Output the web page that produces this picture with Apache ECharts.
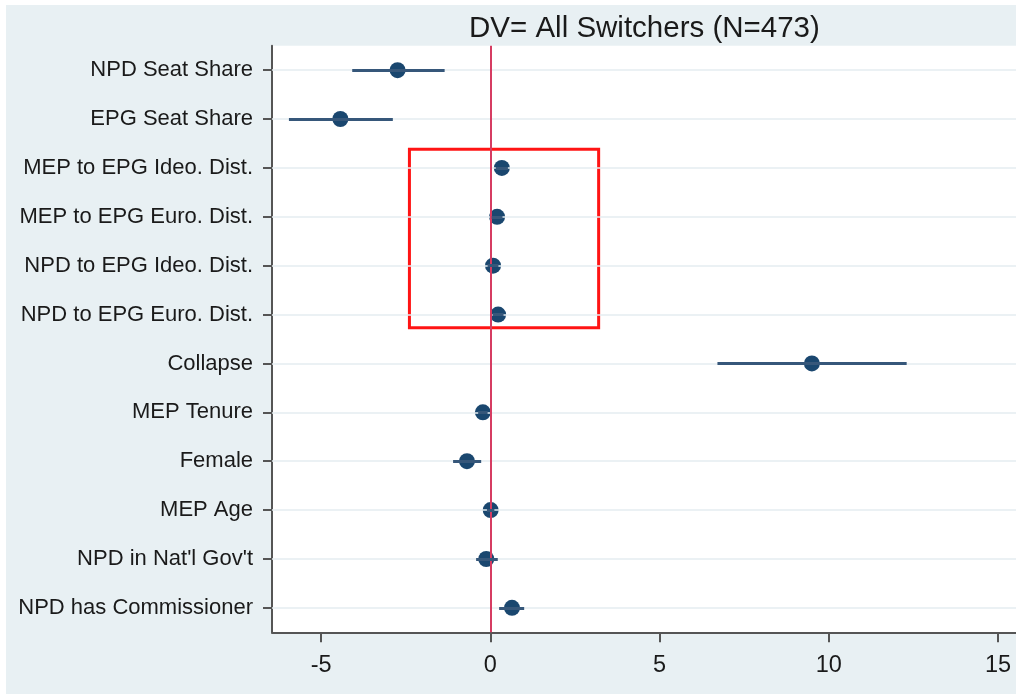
<!DOCTYPE html>
<html>
<head>
<meta charset="utf-8">
<script src="https://cdn.jsdelivr.net/npm/echarts@6/dist/echarts.min.js"></script>
<style>
  html, body { margin: 0; padding: 0; background: #ffffff; width: 1016px; height: 695px; overflow: hidden; }
  #chart { position: absolute; left: 6px; top: 5px; width: 1010px; height: 689px; }
</style>
</head>
<body>
<div id="chart"></div>
<script>
const titleText = 'DV= All Switchers (N=473)';
const categories = [
  'NPD Seat Share',
  'EPG Seat Share',
  'MEP to EPG Ideo. Dist.',
  'MEP to EPG Euro. Dist.',
  'NPD to EPG Ideo. Dist.',
  'NPD to EPG Euro. Dist.',
  'Collapse',
  'MEP Tenure',
  'Female',
  'MEP Age',
  "NPD in Nat'l Gov't",
  'NPD has Commissioner'
];
const estimates = [-2.74, -4.43, 0.34, 0.20, 0.08, 0.23, 9.50, -0.22, -0.69, 0.01, -0.12, 0.64];
const ciLow     = [-4.08, -5.95, 0.16, 0.04, -0.08, 0.07, 6.71, -0.36, -1.10, -0.10, -0.42, 0.26];
const ciHigh    = [-1.35, -2.88, 0.52, 0.36, 0.24, 0.39, 12.30, -0.08, -0.27, 0.12, 0.22, 1.00];
const xTicks = [-5, 0, 5, 10, 15];
const xRange = [-6.45, 15.53];
const boxX = [-2.39, 3.20];
const boxY = [1.62, 5.27];

const idx = categories.map((c, i) => i);
const navy = '#1a476f';
const font = 'Liberation Sans, Arial, sans-serif';

const chart = echarts.init(document.getElementById('chart'), null, { renderer: 'canvas' });
chart.setOption({
  animation: false,
  backgroundColor: '#e8f0f3',
  textStyle: { fontFamily: font },
  title: {
    text: titleText,
    left: 458,
    top: 4,
    textStyle: { fontSize: 29.5, fontWeight: 'normal', color: '#1a1a1a', fontFamily: font }
  },
  grid: {
    left: 266, right: 0, top: 40.7, bottom: 61.7,
    show: true, backgroundColor: '#ffffff', borderWidth: 0
  },
  xAxis: {
    type: 'value',
    min: xRange[0], max: xRange[1],
    axisLine: { show: true, onZero: false, lineStyle: { color: '#555555', width: 2 } },
    axisTick: { show: true, customValues: xTicks, length: 10, lineStyle: { color: '#555555', width: 2 } },
    axisLabel: { customValues: xTicks, margin: 21, fontSize: 23.5, color: '#1a1a1a', fontFamily: font },
    splitLine: { show: false }
  },
  yAxis: {
    type: 'value',
    inverse: true,
    min: -0.5, max: 11.5,
    axisLine: { show: true, onZero: false, lineStyle: { color: '#555555', width: 2 } },
    axisTick: { show: true, customValues: idx, length: 9, lineStyle: { color: '#555555', width: 2 } },
    axisLabel: {
      customValues: idx, margin: 19, fontSize: 22, color: '#1a1a1a',
      fontFamily: font,
      formatter: v => categories[Math.round(v)]
    },
    splitLine: { show: false }
  },
  series: [
    {
      name: 'grid',
      type: 'line',
      data: [],
      z: 1,
      silent: true,
      markLine: {
        silent: true,
        symbol: ['none', 'none'],
        label: { show: false },
        lineStyle: { color: '#e4ecf1', width: 1.5, type: 'solid' },
        data: idx.map(i => ({ yAxis: i }))
      }
    },
    {
      name: 'zero',
      type: 'line',
      data: [],
      z: 2,
      silent: true,
      markLine: {
        silent: true,
        symbol: ['none', 'none'],
        label: { show: false },
        lineStyle: { color: '#d63c62', width: 2, type: 'solid' },
        data: [{ xAxis: 0 }]
      }
    },
    {
      name: 'ci',
      type: 'line',
      data: [],
      z: 3,
      silent: true,
      markLine: {
        silent: true,
        symbol: ['none', 'none'],
        label: { show: false },
        emphasis: { disabled: true },
        lineStyle: { color: '#36577a', width: 3, type: 'solid', opacity: 1 },
        data: idx.map(i => [{ coord: [ciLow[i], i] }, { coord: [ciHigh[i], i] }])
      }
    },
    {
      name: 'est',
      type: 'scatter',
      z: 4,
      symbol: 'circle',
      symbolSize: 16,
      itemStyle: { color: navy, opacity: 1 },
      data: idx.map(i => [estimates[i], i])
    },
    {
      name: 'box',
      type: 'line',
      data: [],
      z: 5,
      silent: true,
      markArea: {
        silent: true,
        label: { show: false },
        itemStyle: { color: 'rgba(0,0,0,0)', borderColor: '#ff1414', borderWidth: 3 },
        data: [[{ xAxis: boxX[0], yAxis: boxY[0] }, { xAxis: boxX[1], yAxis: boxY[1] }]]
      }
    }
  ]
});
</script>
</body>
</html>
